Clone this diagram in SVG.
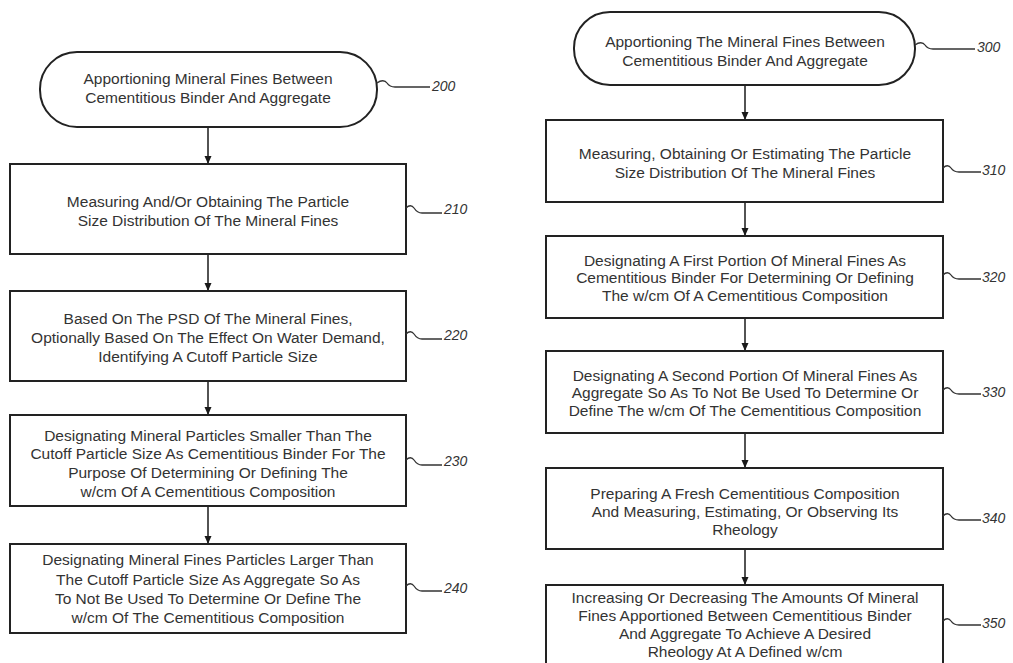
<svg xmlns="http://www.w3.org/2000/svg" width="1013" height="663" viewBox="0 0 1013 663">
<defs>
<marker id="ah" markerWidth="8" markerHeight="8" refX="7" refY="4" orient="auto" markerUnits="userSpaceOnUse">
<path d="M0,0.5 L8,4 L0,7.5 Z" fill="#1a1a1a"/>
</marker>
<style>
.n{fill:#fff;stroke:#222;stroke-width:2}
.t{font-family:"Liberation Sans",Arial,sans-serif;font-size:15.5px;fill:#333;text-anchor:middle}
.lb{font-family:"Liberation Sans",Arial,sans-serif;font-size:14px;font-style:italic;fill:#333}
.sq{fill:none;stroke:#333;stroke-width:1.3}
.c{stroke:#1a1a1a;stroke-width:1.5;fill:none;marker-end:url(#ah)}
</style>
</defs>
<rect width="1013" height="663" fill="#fff"/>
<g id="connectors">
<line class="c" x1="208" y1="127" x2="208" y2="163"/>
<line class="c" x1="208" y1="254" x2="208" y2="290"/>
<line class="c" x1="208" y1="381" x2="208" y2="414"/>
<line class="c" x1="208" y1="506" x2="208" y2="543"/>
<line class="c" x1="745" y1="85" x2="745" y2="119"/>
<line class="c" x1="745" y1="202" x2="745" y2="235"/>
<line class="c" x1="745" y1="318" x2="745" y2="350"/>
<line class="c" x1="745" y1="433" x2="745" y2="467"/>
<line class="c" x1="745" y1="549" x2="745" y2="584"/>
</g>
<g id="n200">
<rect class="n" x="40" y="52" width="337" height="75" rx="37" ry="37"/>
<text class="t" x="208" y="84">Apportioning Mineral Fines Between</text>
<text class="t" x="208" y="103">Cementitious Binder And Aggregate</text>
<path class="sq" d="M377,83 c4,-3 8,-3 10,0 c2,3 4,4 8,4 h35"/>
<text class="lb" x="432" y="91">200</text>
</g>
<g id="n210">
<rect class="n" x="10" y="164" width="396" height="90"/>
<text class="t" x="208" y="207">Measuring And/Or Obtaining The Particle</text>
<text class="t" x="208" y="226">Size Distribution Of The Mineral Fines</text>
<path class="sq" d="M406,208 c3,-3 6,-3 8,0 c2,3 4,5 8,5 h20"/>
<text class="lb" x="444" y="214">210</text>
</g>
<g id="n220">
<rect class="n" x="10" y="291" width="396" height="90"/>
<text class="t" x="208" y="324">Based On The PSD Of The Mineral Fines,</text>
<text class="t" x="208" y="343">Optionally Based On The Effect On Water Demand,</text>
<text class="t" x="208" y="362">Identifying A Cutoff Particle Size</text>
<path class="sq" d="M406,334 c3,-3 6,-3 8,0 c2,3 4,5 8,5 h20"/>
<text class="lb" x="444" y="340">220</text>
</g>
<g id="n230">
<rect class="n" x="10" y="415" width="396" height="91"/>
<text class="t" x="208" y="441">Designating Mineral Particles Smaller Than The</text>
<text class="t" x="208" y="459">Cutoff Particle Size As Cementitious Binder For The</text>
<text class="t" x="208" y="478">Purpose Of Determining Or Defining The</text>
<text class="t" x="208" y="497">w/cm Of A Cementitious Composition</text>
<path class="sq" d="M406,460 c3,-3 6,-3 8,0 c2,3 4,5 8,5 h20"/>
<text class="lb" x="444" y="466">230</text>
</g>
<g id="n240">
<rect class="n" x="10" y="544" width="396" height="89"/>
<text class="t" x="208" y="565">Designating Mineral Fines Particles Larger Than</text>
<text class="t" x="208" y="585">The Cutoff Particle Size As Aggregate So As</text>
<text class="t" x="208" y="604">To Not Be Used To Determine Or Define The</text>
<text class="t" x="208" y="623">w/cm Of The Cementitious Composition</text>
<path class="sq" d="M406,586 c3,-3 6,-3 8,0 c2,3 4,5 8,5 h20"/>
<text class="lb" x="444" y="593">240</text>
</g>
<g id="n300">
<rect class="n" x="574" y="12" width="341" height="73" rx="36" ry="36"/>
<text class="t" x="745" y="47">Apportioning The Mineral Fines Between</text>
<text class="t" x="745" y="66">Cementitious Binder And Aggregate</text>
<path class="sq" d="M915,45 c4,-3 8,-3 10,0 c2,3 4,4 8,4 h42"/>
<text class="lb" x="977" y="52">300</text>
</g>
<g id="n310">
<rect class="n" x="546" y="120" width="397" height="82"/>
<text class="t" x="745" y="159">Measuring, Obtaining Or Estimating The Particle</text>
<text class="t" x="745" y="178">Size Distribution Of The Mineral Fines</text>
<path class="sq" d="M943,168 c3,-3 6,-3 8,0 c2,3 4,4 8,4 h22"/>
<text class="lb" x="982" y="175">310</text>
</g>
<g id="n320">
<rect class="n" x="546" y="236" width="397" height="82"/>
<text class="t" x="745" y="266">Designating A First Portion Of Mineral Fines As</text>
<text class="t" x="745" y="283">Cementitious Binder For Determining Or Defining</text>
<text class="t" x="745" y="301">The w/cm Of A Cementitious Composition</text>
<path class="sq" d="M943,275 c3,-3 6,-3 8,0 c2,3 4,4 8,4 h22"/>
<text class="lb" x="982" y="282">320</text>
</g>
<g id="n330">
<rect class="n" x="546" y="351" width="397" height="82"/>
<text class="t" x="745" y="381">Designating A Second Portion Of Mineral Fines As</text>
<text class="t" x="745" y="398">Aggregate So As To Not Be Used To Determine Or</text>
<text class="t" x="745" y="416">Define The w/cm Of The Cementitious Composition</text>
<path class="sq" d="M943,390 c3,-3 6,-3 8,0 c2,3 4,4 8,4 h22"/>
<text class="lb" x="982" y="397">330</text>
</g>
<g id="n340">
<rect class="n" x="546" y="468" width="397" height="81"/>
<text class="t" x="745" y="499">Preparing A Fresh Cementitious Composition</text>
<text class="t" x="745" y="517">And Measuring, Estimating, Or Observing Its</text>
<text class="t" x="745" y="535">Rheology</text>
<path class="sq" d="M943,516 c3,-3 6,-3 8,0 c2,3 4,4 8,4 h22"/>
<text class="lb" x="982" y="523">340</text>
</g>
<g id="n350">
<rect class="n" x="546" y="585" width="397" height="90"/>
<text class="t" x="745" y="603">Increasing Or Decreasing The Amounts Of Mineral</text>
<text class="t" x="745" y="621">Fines Apportioned Between Cementitious Binder</text>
<text class="t" x="745" y="639">And Aggregate To Achieve A Desired</text>
<text class="t" x="745" y="657">Rheology At A Defined w/cm</text>
<path class="sq" d="M943,621 c3,-3 6,-3 8,0 c2,3 4,4 8,4 h22"/>
<text class="lb" x="982" y="628">350</text>
</g>
</svg>
